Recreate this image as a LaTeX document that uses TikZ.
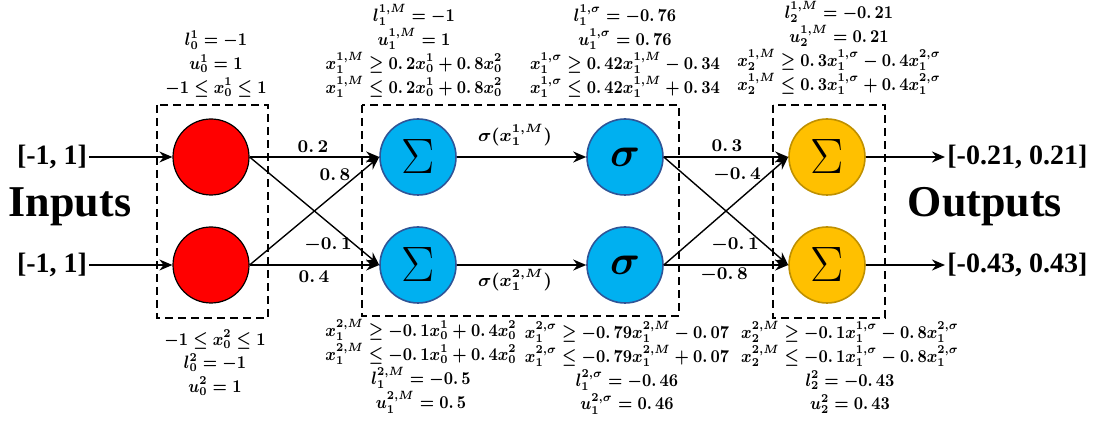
\documentclass[tikz,border=0pt]{standalone}
\usepackage{amsmath}
\usepackage{graphicx}
\usepackage{fontspec}
\setmainfont{Liberation Serif}
\usetikzlibrary{arrows.meta}
\definecolor{nred}{HTML}{FF0000}
\definecolor{nblue}{HTML}{00B0F0}
\definecolor{nblueb}{HTML}{2F5597}
\definecolor{nyel}{HTML}{FFC000}
\definecolor{nyelb}{HTML}{BF9000}
\newcommand{\dpt}{\mathpunct{.}}
\newcommand{\lstack}[1]{\scalebox{0.87}[1]{\renewcommand{\arraystretch}{1.12}\begin{tabular}{@{}c@{}}#1\end{tabular}}}
\begin{document}
\begin{tikzpicture}[x=0.5pt,y=-0.5pt,
 neuron/.style={circle,minimum size=38pt,inner sep=0pt},
 inn/.style={neuron,fill=nred,draw=black,line width=0.6pt},
 hid/.style={neuron,fill=nblue,draw=nblueb,line width=0.8pt},
 outn/.style={neuron,fill=nyel,draw=nyelb,line width=0.8pt},
 conn/.style={-{Stealth[length=6.5pt,width=5.5pt]},line width=0.7pt},
 boxd/.style={draw,dash pattern=on 4pt off 2.5pt,line width=0.9pt},
 lab/.style={font=\fontsize{8.6}{10.6}\selectfont\boldmath,inner sep=0pt},
 wlab/.style={font=\fontsize{8.8}{11}\selectfont\boldmath,inner sep=0pt},
 bigt/.style={font=\fontsize{22}{24}\selectfont\bfseries,inner sep=0pt},
 rng/.style={font=\fontsize{14}{16}\selectfont\bfseries,inner sep=1pt},
 sumsym/.style={font=\fontsize{28}{30}\selectfont},
 sigsym/.style={font=\fontsize{22}{24}\selectfont\boldmath}]
\useasboundingbox (0,0) rectangle (1093,427);

% dashed boxes
\draw[boxd] (157,105) rectangle (268,318);
\draw[boxd] (362,105) rectangle (679,316);
\draw[boxd] (773,105) rectangle (885,318);

% neurons
\node[inn] (i1) at (211,157) {};
\node[inn] (i2) at (211,265) {};
\node[hid,sumsym] (m1) at (418,157) {$\Sigma$};
\node[hid,sumsym] (m2) at (418,265) {$\Sigma$};
\node[hid,sigsym] (s1) at (625,157) {$\sigma$};
\node[hid,sigsym] (s2) at (625,265) {$\sigma$};
\node[outn,sumsym] (o1) at (827,157) {$\Sigma$};
\node[outn,sumsym] (o2) at (827,265) {$\Sigma$};

% inputs / outputs
\node[rng] (in1) at (52,157) {[-1, 1]};
\node[rng] (in2) at (52,265) {[-1, 1]};
\node[rng,anchor=west] (out1) at (945,157) {[-0.21, 0.21]};
\node[rng,anchor=west] (out2) at (945,265) {[-0.43, 0.43]};
\node[bigt] (inp) at (70,207) {Inputs};
\node[bigt] (outp) at (985,207) {Outputs};

\draw[conn] (in1.east) -- (i1.west);
\draw[conn] (in2.east) -- (i2.west);
\draw[conn] (o1.east) -- (out1.west);
\draw[conn] (o2.east) -- (out2.west);

% layer 1
\draw[conn] (i1.east) -- (m1.west);
\draw[conn] (i1.east) -- (m2.west);
\draw[conn] (i2.east) -- (m1.west);
\draw[conn] (i2.east) -- (m2.west);
\node[wlab] (w11) at (313,147) {$0\dpt2$};
\node[wlab] (w21) at (335,175) {$0\dpt8$};
\node[wlab] (w12) at (328,245) {$-0\dpt1$};
\node[wlab] (w22) at (314,277) {$0\dpt4$};

% activation
\draw[conn] (m1.east) -- (s1.west);
\draw[conn] (m2.east) -- (s2.west);
\node[wlab] (a1) at (515,135) {$\sigma(x_1^{1,M})$};
\node[wlab] (a2) at (515,280) {$\sigma(x_1^{2,M})$};

% layer 2
\draw[conn] (s1.east) -- (o1.west);
\draw[conn] (s1.east) -- (o2.west);
\draw[conn] (s2.east) -- (o1.west);
\draw[conn] (s2.east) -- (o2.west);
\node[wlab] (v11) at (727,146) {$0\dpt3$};
\node[wlab] (v21) at (737,175) {$-0\dpt4$};
\node[wlab] (v12) at (735,245) {$-0\dpt1$};
\node[wlab] (v22) at (724,275) {$-0\dpt8$};

% bound labels top
\node[lab,anchor=south] (t1) at (216,101) {\lstack{$l_0^1=-1$\\ $u_0^1=1$\\ $-1\le x_0^1\le 1$}};
\node[lab,anchor=south] (t2) at (414,101) {\lstack{$l_1^{1,M}=-1$\\ $u_1^{1,M}=1$\\ $x_1^{1,M}\ge 0\dpt2x_0^1+0\dpt8x_0^2$\\ $x_1^{1,M}\le 0\dpt2x_0^1+0\dpt8x_0^2$}};
\node[lab,anchor=south] (t3) at (625,101) {\lstack{$l_1^{1,\sigma}=-0\dpt76$\\ $u_1^{1,\sigma}=0\dpt76$\\ $x_1^{1,\sigma}\ge 0\dpt42x_1^{1,M}-0\dpt34$\\ $x_1^{1,\sigma}\le 0\dpt42x_1^{1,M}+0\dpt34$}};
\node[lab,anchor=south] (t4) at (839,98) {\lstack{$l_2^{1,M}=-0\dpt21$\\ $u_2^{1,M}=0\dpt21$\\ $x_2^{1,M}\ge 0\dpt3x_1^{1,\sigma}-0\dpt4x_1^{2,\sigma}$\\ $x_2^{1,M}\le 0\dpt3x_1^{1,\sigma}+0\dpt4x_1^{2,\sigma}$}};

% bound labels bottom
\node[lab,anchor=north] (b1) at (215,328) {\lstack{$-1\le x_0^2\le 1$\\ $l_0^2=-1$\\ $u_0^2=1$}};
\node[lab,anchor=north] (b2) at (421,319) {\lstack{$x_1^{2,M}\ge -0\dpt1x_0^1+0\dpt4x_0^2$\\ $x_1^{2,M}\le -0\dpt1x_0^1+0\dpt4x_0^2$\\ $l_1^{2,M}=-0\dpt5$\\ $u_1^{2,M}=0\dpt5$}};
\node[lab,anchor=north] (b3) at (627,321) {\lstack{$x_1^{2,\sigma}\ge -0\dpt79x_1^{2,M}-0\dpt07$\\ $x_1^{2,\sigma}\le -0\dpt79x_1^{2,M}+0\dpt07$\\ $l_1^{2,\sigma}=-0\dpt46$\\ $u_1^{2,\sigma}=0\dpt46$}};
\node[lab,anchor=north] (b4) at (850,321) {\lstack{$x_2^{2,M}\ge -0\dpt1x_1^{1,\sigma}-0\dpt8x_1^{2,\sigma}$\\ $x_2^{2,M}\le -0\dpt1x_1^{1,\sigma}-0\dpt8x_1^{2,\sigma}$\\ $l_2^2=-0\dpt43$\\ $u_2^2=0\dpt43$}};
\end{tikzpicture}
\end{document}
